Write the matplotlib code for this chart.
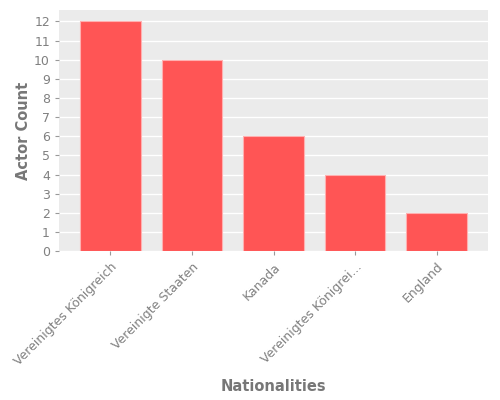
import matplotlib
matplotlib.use("Agg")
import matplotlib.pyplot as plt

# data
nationalities = ["Vereinigtes Königreich", "Vereinigte Staaten", "Kanada",
                 "Vereinigtes Königrei...", "England"]
actor_counts = [12, 10, 6, 4, 2]

fig = plt.figure(figsize=(5, 4), dpi=100)
ax = fig.add_axes([0.118, 0.372, 0.858, 0.603])
ax.set_facecolor("#EBEBEB")

x = range(len(nationalities))
ax.bar(x, actor_counts, width=0.74, color="#FF5555", edgecolor="#FFB0B0", linewidth=0.8, zorder=3)

ax.set_xlim(-0.63, len(nationalities) - 1 + 0.63)
ax.set_ylim(0, 12.6)
ax.set_yticks(range(0, 13))
ax.grid(axis="y", color="white", linewidth=1, zorder=0)
ax.set_axisbelow(True)
for s in ax.spines.values():
    s.set_visible(False)

ax.set_xticks(list(x))
ax.set_xticklabels(nationalities, rotation=45, ha="right", rotation_mode="anchor")
ax.tick_params(colors="#999999", labelcolor="#808080", labelsize=9, length=3)

ax.set_xlabel("Nationalities", fontsize=10.5, fontweight="bold", color="#777777", labelpad=8)
ax.set_ylabel("Actor Count", fontsize=10.5, fontweight="bold", color="#777777", labelpad=2)

fig.savefig("out.png", dpi=100)
